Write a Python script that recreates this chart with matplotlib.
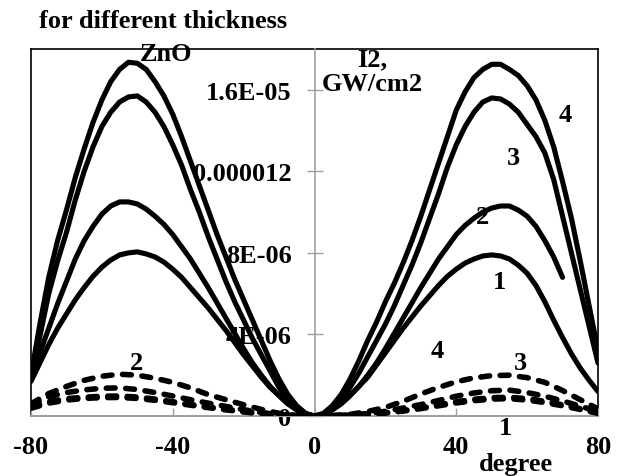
import numpy as np
import matplotlib.pyplot as plt

# incidence angle, degree
angle = np.arange(-80, 80.1, 2.5)     # solid curves
angle2 = np.arange(-80, 70.1, 2.5)    # solid curve 2 stops at 70
angle_d = np.arange(-80, 80.1, 5)     # dashed curves

# I2 values in units of 1E-06 GW/cm2, solid curves (ZnO)
solid1 = [1.7, 2.6, 3.5, 4.3, 5.0, 5.7, 6.3, 6.85, 7.3, 7.65, 7.9, 8.0, 8.05, 7.95, 7.8, 7.55, 7.2,
          6.8, 6.3, 5.8, 5.3, 4.75, 4.2, 3.6, 3.0, 2.45, 1.9, 1.4, 1.0, 0.6, 0.3, 0.08, 0.0,
          0.08, 0.3, 0.6, 1.0, 1.45, 1.9, 2.5, 3.1, 3.7, 4.3, 4.85, 5.4, 5.9, 6.4, 6.85, 7.2,
          7.5, 7.7, 7.85, 7.9, 7.85, 7.7, 7.4, 7.0, 6.4, 5.6, 4.7, 3.85, 3.05, 2.35, 1.75, 1.2]
solid2 = [1.8, 3.1, 4.3, 5.5, 6.6, 7.7, 8.6, 9.3, 9.9, 10.3, 10.5, 10.5, 10.4, 10.15, 9.8, 9.4, 8.9,
          8.3, 7.7, 7.0, 6.3, 5.55, 4.8, 4.05, 3.3, 2.6, 2.0, 1.45, 1.0, 0.6, 0.3, 0.08, 0.0,
          0.08, 0.3, 0.6, 1.0, 1.45, 2.0, 2.6, 3.3, 4.05, 4.8, 5.55, 6.3, 7.0, 7.7, 8.3, 8.9,
          9.35, 9.7, 10.0, 10.2, 10.3, 10.3, 10.1, 9.8, 9.3, 8.6, 7.8, 6.8]
solid3 = [1.8, 3.9, 6.0, 7.6, 9.0, 10.6, 12.0, 13.2, 14.2, 14.9, 15.4, 15.65, 15.7, 15.4, 14.9, 14.2, 13.3,
          12.3, 11.1, 10.0, 8.8, 7.7, 6.6, 5.6, 4.7, 3.8, 3.0, 2.2, 1.4, 0.8, 0.4, 0.1, 0.0,
          0.1, 0.4, 0.8, 1.4, 2.1, 2.9, 3.7, 4.5, 5.4, 6.4, 7.4, 8.5, 9.7, 10.9, 12.2, 13.3,
          14.2, 14.9, 15.4, 15.6, 15.55, 15.3, 14.9, 14.3, 13.7, 12.9, 11.6, 9.8, 8.0, 6.2, 4.4, 2.6]
solid4 = [2.0, 4.5, 6.8, 8.6, 10.1, 11.7, 13.1, 14.4, 15.5, 16.4, 17.0, 17.35, 17.3, 17.0, 16.4, 15.7, 14.8,
          13.7, 12.5, 11.3, 10.1, 8.9, 7.8, 6.7, 5.7, 4.7, 3.7, 2.7, 1.8, 1.05, 0.5, 0.13, 0.0,
          0.13, 0.5, 1.05, 1.8, 2.7, 3.7, 4.6, 5.6, 6.5, 7.5, 8.6, 9.8, 11.1, 12.4, 13.7, 15.0,
          15.9, 16.6, 17.0, 17.25, 17.25, 17.0, 16.7, 16.2, 15.5, 14.5, 13.2, 11.5, 9.7, 7.6, 5.4, 3.2]

# dashed curves
dash1 = [0.6, 1.1, 1.45, 1.75, 1.95, 2.05, 2.0, 1.85, 1.65, 1.38, 1.05, 0.8, 0.55, 0.32, 0.13, 0.03, 0.0,
         0.03, 0.08, 0.22, 0.42, 0.72, 1.08, 1.4, 1.68, 1.87, 1.98, 2.0, 1.88, 1.65, 1.25, 0.8, 0.35]
dash2 = [0.55, 0.95, 1.15, 1.28, 1.36, 1.38, 1.3, 1.15, 0.98, 0.8, 0.63, 0.47, 0.31, 0.17, 0.07, 0.01, 0.0,
         0.01, 0.05, 0.12, 0.23, 0.39, 0.56, 0.76, 0.97, 1.13, 1.24, 1.27, 1.15, 0.97, 0.74, 0.48, 0.22]
dash3 = [0.45, 0.7, 0.85, 0.92, 0.97, 0.98, 0.93, 0.83, 0.7, 0.57, 0.45, 0.33, 0.22, 0.12, 0.05, 0.01, 0.0,
         0.01, 0.03, 0.08, 0.16, 0.27, 0.4, 0.55, 0.7, 0.82, 0.9, 0.92, 0.85, 0.72, 0.55, 0.36, 0.15]
dash4 = [0.38, 0.63, 0.78, 0.86, 0.9, 0.91, 0.86, 0.77, 0.65, 0.53, 0.41, 0.3, 0.2, 0.11, 0.04, 0.01, 0.0,
         0.01, 0.02, 0.07, 0.14, 0.24, 0.36, 0.5, 0.64, 0.75, 0.83, 0.85, 0.78, 0.66, 0.5, 0.32, 0.13]

xticks = [-80, -40, 0, 40, 80]
xlabels = ['-80', '-40', '0', '40', '80']
yticks = [0, 4e-6, 8e-6, 1.2e-5, 1.6e-5]
ylabels = ['0', '4E-06', '8E-06', '0.000012', '1.6E-05']

plt.rcParams['font.family'] = ['Liberation Serif', 'DejaVu Serif']
plt.rcParams['font.weight'] = 'bold'
fs = 19
gray = '#a0a0a0'
scale = 1e-6

fig = plt.figure(figsize=(6.2, 4.77), dpi=100)
pos = [31 / 620, 60 / 477, 567 / 620, 367 / 477]

# black plot-area frame
frame = fig.add_axes(pos)
frame.set_xticks([])
frame.set_yticks([])
for s in frame.spines.values():
    s.set_color('black')
    s.set_linewidth(1.2)

ax = fig.add_axes(pos)
ax.patch.set_visible(False)
ax.set_xlim(-80, 80)
ax.set_ylim(0, 1.8e-5)

ax.spines['top'].set_visible(False)
ax.spines['right'].set_visible(False)
ax.spines['left'].set_position(('data', 0))
ax.spines['left'].set_color(gray)
ax.spines['bottom'].set_color(gray)
ax.spines['left'].set_linewidth(1.2)
ax.spines['bottom'].set_linewidth(1.5)

ax.set_xticks(xticks)
ax.set_xticklabels(xlabels)
ax.set_yticks(yticks)
ax.set_yticklabels(ylabels)
ax.tick_params(axis='x', direction='in', length=6, width=1, color=gray, pad=14, labelsize=fs)
ax.tick_params(axis='y', direction='inout', length=11, width=1, color=gray, pad=11, labelsize=fs)

for v in [solid1, solid3, solid4]:
    ax.plot(angle, np.array(v) * scale, color='black', lw=3.7, zorder=3,
            solid_capstyle='round', solid_joinstyle='round')
ax.plot(angle2, np.array(solid2) * scale, color='black', lw=3.7, zorder=3,
        solid_capstyle='round', solid_joinstyle='round')
for v in [dash1, dash2, dash3, dash4]:
    ax.plot(angle_d, np.array(v) * scale, color='black', lw=4.0, zorder=3,
            linestyle=(0, (1.6, 1.9)), dash_capstyle='round')

# curve numbers
tkw = dict(fontsize=fs, ha='center', va='center', zorder=4, clip_on=False)
ax.text(70.7, 14.8e-6, '4', **tkw)
ax.text(56.0, 12.7e-6, '3', **tkw)
ax.text(47.3, 9.8e-6, '2', **tkw)
ax.text(52.3, 6.6e-6, '1', **tkw)
ax.text(-50.1, 2.6e-6, '2', **tkw)
ax.text(34.6, 3.2e-6, '4', **tkw)
ax.text(58.0, 2.6e-6, '3', **tkw)
ax.text(53.8, -0.55e-6, '1', **tkw)

ax.text(-41.9, 17.8e-6, 'ZnO', **tkw)
ax.text(16.2, 17.5e-6, 'I2,', **tkw)
ax.text(16.2, 16.3e-6, 'GW/cm2', **tkw)
ax.text(56.9, -2.35e-6, 'degree', **tkw)

fig.text(163 / 620, 1 - 21 / 477, 'for different thickness', fontsize=fs,
         ha='center', va='center')

plt.savefig('out.png', dpi=100)
